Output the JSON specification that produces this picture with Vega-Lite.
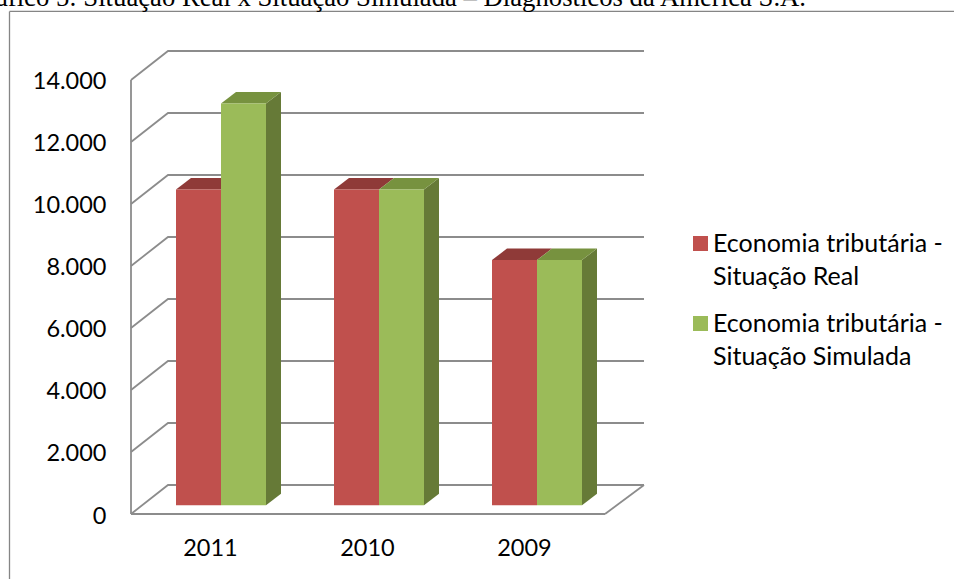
{"$schema":"https://vega.github.io/schema/vega-lite/v6.json","width":513,"height":463,"autosize":"none","padding":{"left":131,"top":51,"right":310,"bottom":65},"background":"white","view":{"stroke":null},
"datasets":{"bars":[
{"year":2011,"series":"Economia tributária - Situação Real","value":10190},
{"year":2011,"series":"Economia tributária - Situação Simulada","value":12960},
{"year":2010,"series":"Economia tributária - Situação Real","value":10190},
{"year":2010,"series":"Economia tributária - Situação Simulada","value":10190},
{"year":2009,"series":"Economia tributária - Situação Real","value":7910},
{"year":2009,"series":"Economia tributária - Situação Simulada","value":7910}],
"ticks":[{"tick":0},{"tick":2000},{"tick":4000},{"tick":6000},{"tick":8000},{"tick":10000},{"tick":12000},{"tick":14000}],
"one":[{"k":1}]},
"layer":[
{"data":{"name":"ticks"},"transform":[{"calculate":"[0,37,513]","as":"d"},{"flatten":["d"]},{"calculate":"datum.tick+min(datum.d,37)/37*935","as":"gy"}],
"mark":{"type":"line","color":"#8c8c8c","strokeWidth":1.8},
"encoding":{"x":{"field":"d","type":"quantitative","scale":{"domain":[0,513],"nice":false,"zero":false},"axis":{"title":null,"values":[79,236,393],"labelExpr":"datum.value==79?'2011':datum.value==236?'2010':'2009'","domain":false,"ticks":false,"grid":false,"labelFont":"Lato","labelFontSize":23.5,"labelColor":"#000000","labelPadding":22,"labelAngle":0}},
"y":{"field":"gy","type":"quantitative","scale":{"domain":[0,14935],"nice":false,"zero":false},"axis":{"title":null,"values":[0,2000,4000,6000,8000,10000,12000,14000],"labelExpr":"replace(format(datum.value,','),',','.')","domain":false,"ticks":false,"grid":false,"labelFont":"Lato","labelFontSize":23.5,"labelColor":"#000000","labelPadding":25,"labelOffset":2}},
"detail":{"field":"tick"}}},
{"data":{"name":"one"},"mark":{"type":"rule","color":"#8c8c8c","strokeWidth":1.8},"encoding":{"x":{"datum":0,"type":"quantitative"},"y":{"datum":0,"type":"quantitative"},"y2":{"datum":14000}}},
{"data":{"name":"one"},"mark":{"type":"rule","color":"#8c8c8c","strokeWidth":1.8},"encoding":{"x":{"datum":0,"type":"quantitative"},"x2":{"datum":474},"y":{"datum":0,"type":"quantitative"}}},
{"data":{"name":"one"},"mark":{"type":"rule","color":"#8c8c8c","strokeWidth":1.8},"encoding":{"x":{"datum":474,"type":"quantitative"},"x2":{"datum":513},"y":{"datum":0,"type":"quantitative"},"y2":{"datum":935}}},
{"data":{"name":"one"},"mark":{"type":"rule","color":"#858585","strokeWidth":1.3,"clip":false},"encoding":{"x":{"datum":-121.5,"type":"quantitative"},"y":{"datum":16210,"type":"quantitative"},"y2":{"datum":-2100}}},
{"data":{"name":"one"},"mark":{"type":"rule","color":"#858585","strokeWidth":1.3,"clip":false},"encoding":{"x":{"datum":-121.5,"type":"quantitative"},"x2":{"datum":823},"y":{"datum":16210,"type":"quantitative"}}},
{"data":{"name":"one"},"mark":{"type":"text","align":"right","baseline":"alphabetic","font":"Liberation Serif","fontSize":26.7,"color":"#000000"},"encoding":{"x":{"datum":675,"type":"quantitative"},"y":{"datum":16387,"type":"quantitative"},"text":{"value":"Gráfico 5: Situação Real x Situação Simulada – Diagnósticos da América S.A."}}},
{"data":{"name":"bars"},"transform":[
{"calculate":"(2011-datum.year)*158+45+(indexof(datum.series,'Real')>=0?0:45)","as":"x0"},
{"calculate":"datum.x0+45","as":"x1"},
{"calculate":"datum.value+281","as":"top"},
{"calculate":"281","as":"base"},
{"calculate":"[0,15]","as":"d"},{"flatten":["d"]},
{"calculate":"datum.x1+datum.d","as":"sx"},
{"calculate":"datum.x0+datum.d","as":"tx0"},
{"calculate":"datum.top+datum.d/15*371","as":"sTop"},
{"calculate":"datum.base+datum.d/15*371","as":"sBase"},
{"calculate":"datum.x1+datum.d","as":"tx1"}],
"layer":[
{"transform":[{"filter":"indexof(datum.series,'Real')>=0"}],"layer":[
{"mark":{"type":"area","orient":"horizontal","color":"#8f3a38"},"encoding":{"y":{"field":"sTop","type":"quantitative","stack":null},"x":{"field":"tx0","type":"quantitative"},"x2":{"field":"tx1"},"detail":{"field":"year"}}}]},
{"transform":[{"filter":"indexof(datum.series,'Real')<0"}],"layer":[
{"mark":{"type":"area","color":"#667a37"},"encoding":{"x":{"field":"sx","type":"quantitative"},"y":{"field":"sTop","type":"quantitative","stack":null},"y2":{"field":"sBase"},"detail":{"field":"year"}}},
{"mark":{"type":"area","orient":"horizontal","color":"#77923f"},"encoding":{"y":{"field":"sTop","type":"quantitative","stack":null},"x":{"field":"tx0","type":"quantitative"},"x2":{"field":"tx1"},"detail":{"field":"year"}}}]},
{"transform":[{"filter":"datum.d==0"}],"mark":{"type":"rect"},"encoding":{"x":{"field":"x0","type":"quantitative"},"x2":{"field":"x1"},"y":{"field":"top","type":"quantitative"},"y2":{"field":"base"},
"color":{"field":"series","type":"nominal","scale":{"domain":["Economia tributária - Situação Real","Economia tributária - Situação Simulada"],"range":["#C0504D","#9BBB59"]},
"legend":{"title":null,"orient":"none","legendX":557,"legendY":180,"padding":0,"symbolType":"square","symbolSize":225,"symbolStrokeWidth":0,"labelFont":"Lato","labelFontSize":25,"labelColor":"#000000","labelOffset":0,"labelLimit":300,"rowPadding":21,"labelExpr":"[slice(datum.label,0,21),slice(datum.label,22)]","encoding":{"labels":{"lineHeight":{"value":33}}}}}}}
]}
]}
